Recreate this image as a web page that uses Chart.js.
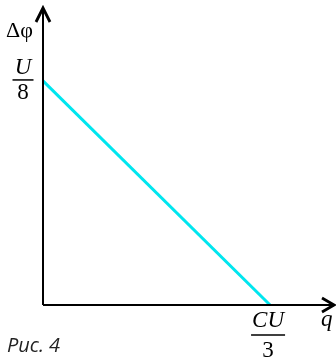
<!DOCTYPE html>
<html lang="ru">
<head>
  <meta charset="UTF-8">
  <title>Рис. 4</title>
  <script src="https://cdn.jsdelivr.net/npm/chart.js"></script>
  <style>
    html, body { margin: 0; padding: 0; background: #fff; }
    #wrap { width: 336px; height: 363px; }
  </style>
</head>
<body>
  <div id="wrap"><canvas id="graph" width="336" height="363"></canvas></div>

  <script>
    // q in units of CU/3, Δφ in units of U/8
    const qValues = [0, 1];
    const phiValues = [1, 0];
    const xTickLabel = ['CU', '3'];   // numerator, denominator
    const yTickLabel = ['U', '8'];
    const xTitle = 'q';
    const yTitle = 'Δφ';
    const caption = 'Рис. 4';

    const points = qValues.map((q, i) => ({ x: q, y: phiValues[i] }));

    function drawFraction(ctx, parts, cx, barY, barW, up, down) {
      ctx.save();
      ctx.fillStyle = '#000';
      ctx.textAlign = 'center';
      ctx.textBaseline = 'alphabetic';
      ctx.font = 'italic 23px "Liberation Serif"';
      ctx.fillText(parts[0], cx, barY - up);
      ctx.font = '23px "Liberation Serif"';
      ctx.fillText(parts[1], cx, barY + down);
      ctx.fillRect(cx - barW / 2, barY - 0.75, barW, 1.5);
      ctx.restore();
    }

    const axesPlugin = {
      id: 'axes',
      afterDatasetsDraw(chart) {
        const ctx = chart.ctx;
        const a = chart.chartArea;
        const xs = chart.scales.x, ys = chart.scales.y;
        const ox = xs.getPixelForValue(0), oy = ys.getPixelForValue(0);

        ctx.save();
        ctx.strokeStyle = '#000';
        ctx.lineWidth = 2;
        ctx.beginPath();
        ctx.moveTo(ox, oy);
        ctx.lineTo(ox, a.top + 1);
        ctx.moveTo(ox, oy);
        ctx.lineTo(a.right - 1, oy);
        ctx.stroke();

        // arrow heads
        ctx.lineWidth = 2.8;
        ctx.beginPath();
        ctx.moveTo(ox - 7, a.top + 15);
        ctx.lineTo(ox, a.top + 1);
        ctx.lineTo(ox + 7, a.top + 15);
        ctx.moveTo(a.right - 13, oy - 7);
        ctx.lineTo(a.right - 1, oy);
        ctx.lineTo(a.right - 13, oy + 7);
        ctx.stroke();
        ctx.restore();

        // tick labels as fractions
        drawFraction(ctx, yTickLabel, 23, ys.getPixelForValue(1) - 1, 21, 6, 19);
        drawFraction(ctx, xTickLabel, xs.getPixelForValue(1) - 2, 335, 34, 8, 22);

        // axis titles
        ctx.save();
        ctx.fillStyle = '#000';
        ctx.textBaseline = 'alphabetic';
        ctx.textAlign = 'left';
        ctx.font = '22px "Liberation Serif"';
        ctx.fillText(yTitle, 6, 37);
        ctx.font = 'italic 23px "Liberation Serif"';
        ctx.fillText(xTitle, 321, 326);

        // caption
        ctx.fillStyle = '#222';
        ctx.font = 'italic 20px "Open Sans"';
        ctx.fillText(caption, 7, 352);
        ctx.restore();
      }
    };

    new Chart(document.getElementById('graph').getContext('2d'), {
      type: 'scatter',
      data: {
        datasets: [{
          data: points,
          showLine: true,
          borderColor: '#00e6ef',
          borderWidth: 3,
          pointRadius: 0,
          clip: false
        }]
      },
      options: {
        responsive: false,
        animation: false,
        layout: { padding: { left: 43, right: 1, top: 7, bottom: 58 } },
        plugins: { legend: { display: false }, tooltip: { enabled: false } },
        scales: {
          x: { type: 'linear', display: false, min: 0, max: 1.286 },
          y: { type: 'linear', display: false, min: 0, max: 1.33 }
        }
      },
      plugins: [axesPlugin]
    });
  </script>
</body>
</html>
